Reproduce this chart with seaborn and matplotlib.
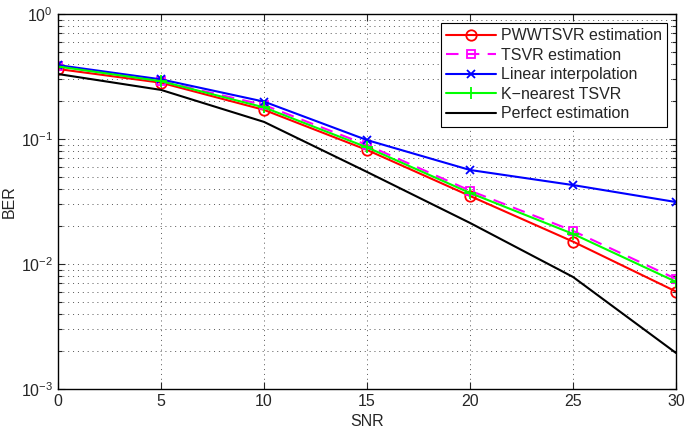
import numpy as np
import pandas as pd
import seaborn as sns
import matplotlib
matplotlib.use("Agg")
import matplotlib.pyplot as plt
from matplotlib.ticker import LogLocator, NullFormatter

# data
snr = [0, 5, 10, 15, 20, 25, 30]
ber_pwwtsvr = [0.363, 0.282, 0.171, 0.0817, 0.035, 0.0151, 0.00602]
ber_tsvr = [0.384, 0.290, 0.187, 0.0895, 0.0386, 0.0184, 0.0076]
ber_linear = [0.390, 0.300, 0.199, 0.098, 0.0565, 0.0428, 0.0313]
ber_knn = [0.380, 0.290, 0.179, 0.0857, 0.037, 0.0174, 0.0072]
ber_perfect = [0.331, 0.247, 0.137, 0.0545, 0.0213, 0.00787, 0.00194]

labels = ["PWWTSVR estimation", "TSVR estimation", "Linear interpolation",
          "K\u2212nearest TSVR", "Perfect estimation"]
series = [ber_pwwtsvr, ber_tsvr, ber_linear, ber_knn, ber_perfect]

sns.set_style("ticks")
plt.rcParams['font.family'] = ['Liberation Sans', 'DejaVu Sans']
plt.rcParams['mathtext.fontset'] = 'custom'
plt.rcParams['mathtext.rm'] = 'Liberation Sans'

fig = plt.figure(figsize=(6.85, 4.32), dpi=100)
ax = fig.add_axes([0.0847, 0.0995, 0.9023, 0.8681])

styles = [
    dict(color="#ff0000", marker="o", ls="-", mfc="none", ms=7.5),
    dict(color="#ff00ff", marker="s", ls=(0, (6, 4)), mfc="none", ms=6),
    dict(color="#0000ff", marker="x", ls="-", mfc="#0000ff", ms=6),
    dict(color="#00ff00", marker="+", ls="-", mfc="#00ff00", ms=8),
    dict(color="#000000", marker="None", ls="-", mfc="none", ms=0),
]

for lab, vals, st in zip(labels, series, styles):
    df = pd.DataFrame({"SNR": snr, "BER": vals})
    sns.lineplot(data=df, x="SNR", y="BER", ax=ax, label=lab,
                 color=st["color"], linewidth=1.5)
    ln = ax.lines[-1]
    ln.set_linestyle(st["ls"])
    ln.set_marker(st["marker"])
    ln.set_markersize(st["ms"])
    ln.set_markerfacecolor(st["mfc"])
    ln.set_markeredgecolor(st["color"])
    ln.set_markeredgewidth(1.3)

ax.set_yscale("log")
ax.set_xlim(0, 30)
ax.set_ylim(1e-3, 1)
ax.set_xticks([0, 5, 10, 15, 20, 25, 30])
ax.yaxis.set_major_locator(LogLocator(base=10, numticks=10))
ax.yaxis.set_minor_locator(LogLocator(base=10, subs=np.arange(2, 10), numticks=10))
ax.yaxis.set_minor_formatter(NullFormatter())

ax.grid(True, which="major", axis="both", linestyle=(0, (1, 4)), color="#555555", linewidth=0.7)
ax.grid(True, which="minor", axis="y", linestyle=(0, (1, 4)), color="#555555", linewidth=0.7)

ax.tick_params(which="both", direction="in", top=True, right=True, labelsize=11.5, width=0.8)
ax.tick_params(which="major", length=5)
ax.tick_params(which="minor", length=3)
for sp in ax.spines.values():
    sp.set_color("black")
    sp.set_linewidth(1.0)

ax.set_xlabel("SNR", fontsize=11.5, labelpad=4)
ax.set_ylabel("BER", fontsize=11.5, labelpad=3)

leg = ax.legend(loc="upper right", fontsize=11.5, handlelength=3.1, labelspacing=0.28,
                borderaxespad=0.55, fancybox=False, framealpha=1, borderpad=0.35,
                handletextpad=0.3, numpoints=1)
leg.get_frame().set_edgecolor("black")
leg.get_frame().set_linewidth(0.8)

fig.savefig("out.png", dpi=100)
